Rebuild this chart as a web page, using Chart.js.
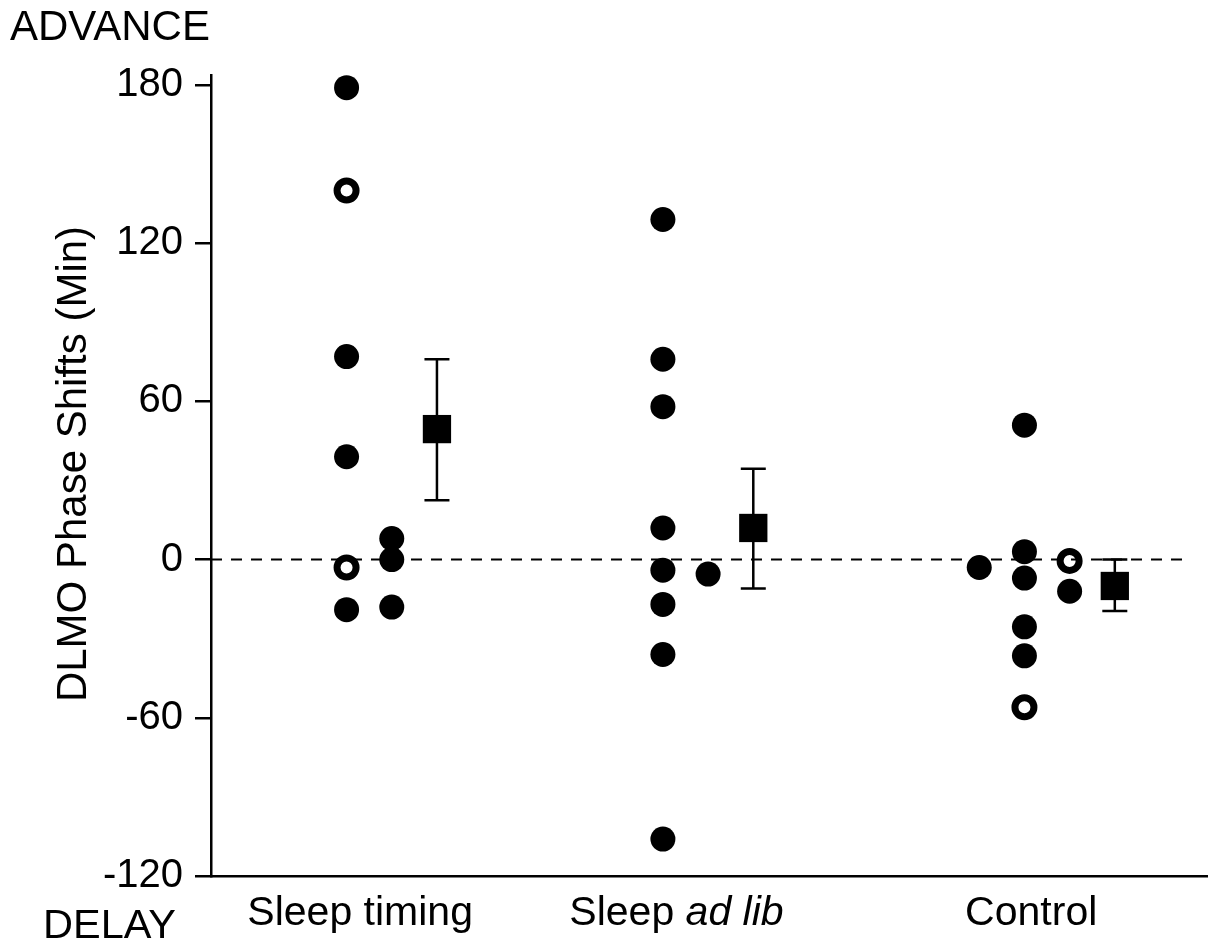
<!DOCTYPE html>
<html><head><meta charset="utf-8">
<script src="https://cdn.jsdelivr.net/npm/chart.js@4/dist/chart.umd.min.js"></script>
<style>html,body{margin:0;padding:0;background:#fff;} #wrap{width:1218px;height:952px;}</style>
</head><body><div id="wrap"><canvas id="c" width="1218" height="952"></canvas></div>
<script>
// ---- data ----
const categories = ['Sleep timing', 'Sleep ad lib', 'Control'];
const categoryItalicPart = ['', 'ad lib', ''];
const categoryLabelSlot = [3.3, 10.3, 18.15];
const yTickValues = [-120, -60, 0, 60, 120, 180];

// individual subjects (filled circles): column slot and phase shift (min)
const filledSlot  = [3, 3, 3, 3, 4, 4, 4, 10, 10, 10, 10, 10, 10, 10, 10, 11, 17, 18, 18, 18, 18, 18, 19];
const filledValue = [179, 77, 39, -19, 8, 0, -18, 129, 76, 58, 12, -4, -17, -36, -106, -5.5, -3, 51, 3, -7, -25.5, -36.5, -12];

// individual subjects (open circles)
const openSlot  = [3, 3, 18, 19];
const openValue = [140, -3, -56, -0.5];

// group means with error bars
const meanSlot  = [5, 12, 20];
const meanValue = [49.5, 12, -10];
const errHigh   = [76, 34.5, 0];
const errLow    = [22.5, -11, -19.5];

// zero reference line extent (slots)
const refLineSlots = [0, 21.5];

const FONT = '"Liberation Sans", Arial, Helvetica, sans-serif';

const pts = (xs, ys) => xs.map((x, i) => ({x: x, y: ys[i]}));

const extras = {
  id: 'extras',
  afterDatasetsDraw(chart) {
    const ctx = chart.ctx;
    const xs = chart.scales.x, ys = chart.scales.y;
    ctx.save();
    ctx.strokeStyle = '#000';
    ctx.lineWidth = 2.5;
    meanSlot.forEach((s, i) => {
      const px = xs.getPixelForValue(s);
      const pt = ys.getPixelForValue(errHigh[i]);
      const pb = ys.getPixelForValue(errLow[i]);
      ctx.beginPath();
      ctx.moveTo(px, pt); ctx.lineTo(px, pb);
      ctx.moveTo(px - 12.5, pt); ctx.lineTo(px + 12.5, pt);
      ctx.moveTo(px - 12.5, pb); ctx.lineTo(px + 12.5, pb);
      ctx.stroke();
    });
    ctx.restore();
  },
  afterDraw(chart) {
    const ctx = chart.ctx;
    const xs = chart.scales.x;
    const area = chart.chartArea;
    ctx.save();
    ctx.fillStyle = '#000';
    ctx.textBaseline = 'alphabetic';
    ctx.textAlign = 'left';
    ctx.font = '42px ' + FONT;
    ctx.fillText('ADVANCE', 10, 40);
    ctx.font = '41.5px ' + FONT;
    ctx.fillText('DELAY', 43, 938);
    categories.forEach((c, i) => {
      const it = categoryItalicPart[i];
      const normal = it ? c.slice(0, c.length - it.length) : c;
      ctx.font = '41px ' + FONT;
      const w1 = ctx.measureText(normal).width;
      ctx.font = 'italic 41px ' + FONT;
      const w2 = it ? ctx.measureText(it).width : 0;
      const cx = xs.getPixelForValue(categoryLabelSlot[i]);
      const x0 = cx - (w1 + w2) / 2;
      const by = area.bottom + 49;
      ctx.font = '41px ' + FONT;
      ctx.fillText(normal, x0, by);
      if (it) { ctx.font = 'italic 41px ' + FONT; ctx.fillText(it, x0 + w1, by); }
    });
    ctx.translate(86, 464);
    ctx.rotate(-Math.PI / 2);
    ctx.textAlign = 'center';
    ctx.font = '42px ' + FONT;
    ctx.fillText('DLMO Phase Shifts (Min)', 0, 0);
    ctx.restore();
  }
};

new Chart(document.getElementById('c'), {
  type: 'scatter',
  data: {
    datasets: [
      { label: 'Individual', data: pts(filledSlot, filledValue), pointRadius: 12.5, pointHoverRadius: 12.5,
        backgroundColor: '#000', borderColor: '#000', borderWidth: 0, showLine: false, clip: false, order: 1 },
      { label: 'Individual (open)', data: pts(openSlot, openValue), pointRadius: 9.5, pointHoverRadius: 9.5,
        backgroundColor: 'rgba(0,0,0,0)', borderColor: '#000', borderWidth: 7, showLine: false, clip: false, order: 1 },
      { label: 'Mean', data: pts(meanSlot, meanValue), pointStyle: 'rect', pointRadius: 20, pointHoverRadius: 20,
        backgroundColor: '#000', borderColor: '#000', borderWidth: 0, showLine: false, clip: false, order: 1 },
      { type: 'line', label: 'zero', data: refLineSlots.map(s => ({x: s, y: 0})), borderColor: '#000',
        borderWidth: 2, borderDash: [11, 9], pointRadius: 0, fill: false, clip: false, order: 5 }
    ]
  },
  options: {
    responsive: false,
    devicePixelRatio: 1,
    animation: false,
    events: [],
    layout: { autoPadding: false, padding: { top: 75, right: 11, bottom: 0, left: 0 } },
    plugins: { legend: { display: false }, tooltip: { enabled: false }, title: { display: false } },
    scales: {
      x: {
        type: 'linear', min: 0, max: 22.04,
        ticks: { display: false },
        grid: { display: false },
        border: { display: true, color: '#000', width: 2.5 },
        afterFit: s => { s.height = 76; }
      },
      y: {
        type: 'linear', min: -120, max: 183.8,
        afterBuildTicks: s => { s.ticks = yTickValues.map(v => ({ value: v })); },
        ticks: { color: '#000', padding: 12, font: { family: FONT, size: 40 }, callback: v => String(v) },
        grid: { drawOnChartArea: false, drawTicks: true, tickLength: 16, color: '#000', lineWidth: 2.5 },
        border: { display: true, color: '#000', width: 2.5 },
        afterFit: s => { s.width = 211; }
      }
    }
  },
  plugins: [extras]
});
</script>
</body></html>
